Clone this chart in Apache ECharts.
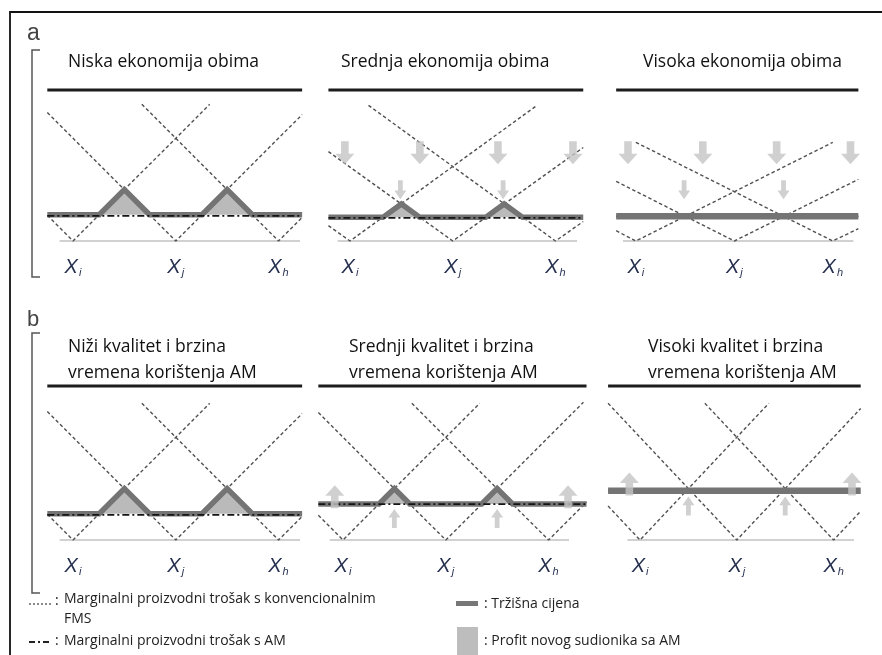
<!DOCTYPE html>
<html>
<head>
<meta charset="utf-8">
<script src="https://cdn.jsdelivr.net/npm/echarts@6/dist/echarts.min.js"></script>
<style>
  html, body { margin: 0; padding: 0; background: #fff; }
  #chart { width: 882px; height: 655px; }
</style>
</head>
<body>
<div id="chart"></div>
<script>
// Panel titles and quantity-axis tick labels (subscripts of X)
const titlesA = ['Niska ekonomija obima', 'Srednja ekonomija obima', 'Visoka ekonomija obima'];
const titlesB = ['Niži kvalitet i brzina\nvremena korištenja AM',
                 'Srednji kvalitet i brzina\nvremena korištenja AM',
                 'Visoki kvalitet i brzina\nvremena korištenja AM'];
const ticksA = ['i', 'j', 'h'];
const ticksB = ['i', 'j', 'h'];

// x: product position (Xi = 1, Xj = 2, Xh = 3), y: cost / price level

// a1 — low economies of scale
const a1Fms = [
  [[0.75, 0.25], [1, 0], [2.33, 1.33]],
  [[0.75, 1.25], [2, 0], [3.23, 1.23]],
  [[1.67, 1.33], [3, 0], [3.23, 0.23]]
];
const a1Price = [[0.75, 0.255], [1.255, 0.255], [1.5, 0.5], [1.745, 0.255], [2.255, 0.255], [2.5, 0.5], [2.745, 0.255], [3.23, 0.255]];
const a1Am = [[0.75, 0.245], [3.23, 0.245]];
const a1Base = [[0.87, 0], [3.21, 0]];
const a1Rule = [[0.75, 1.47], [3.23, 1.47]];
const a1BigArrows = [];
const a1SmallArrows = [];

// a2 — medium economies of scale
const a2Fms = [
  [[0.79, 0.15], [1, 0], [2.82, 1.32]],
  [[0.79, 0.87], [2, 0], [3.27, 0.91]],
  [[1.18, 1.32], [3, 0], [3.27, 0.19]]
];
const a2Price = [[0.79, 0.23], [1.32, 0.23], [1.5, 0.36], [1.68, 0.23], [2.32, 0.23], [2.5, 0.36], [2.68, 0.23], [3.27, 0.23]];
const a2Am = [[0.79, 0.225], [3.27, 0.225]];
const a2Base = [[0.88, 0], [3.21, 0]];
const a2Rule = [[0.79, 1.47], [3.27, 1.47]];
const a2BigArrows = [[0.95, 0.86], [1.68, 0.86], [2.44, 0.86], [3.17, 0.86]];
const a2SmallArrows = [[1.49, 0.5], [2.49, 0.5]];

// a3 — high economies of scale
const a3Fms = [
  [[0.8, 0.1], [1, 0], [3, 0.96]],
  [[0.8, 0.58], [2, 0], [3.26, 0.6]],
  [[1, 0.96], [3, 0], [3.26, 0.12]]
];
const a3Price = [[0.8, 0.24], [3.26, 0.24]];
const a3Am = [[0.8, 0.24], [3.26, 0.24]];
const a3Base = [[0.87, 0], [3.21, 0]];
const a3Rule = [[0.8, 1.47], [3.26, 1.47]];
const a3BigArrows = [[0.92, 0.86], [1.68, 0.86], [2.43, 0.86], [3.18, 0.86]];
const a3SmallArrows = [[1.49, 0.5], [2.5, 0.5]];

// b1 — lower quality and speed of AM
const b1Fms = [
  [[0.75, 0.25], [1, 0], [2.33, 1.33]],
  [[0.75, 1.25], [2, 0], [3.23, 1.23]],
  [[1.67, 1.33], [3, 0], [3.23, 0.23]]
];
const b1Price = [[0.75, 0.255], [1.255, 0.255], [1.5, 0.5], [1.745, 0.255], [2.255, 0.255], [2.5, 0.5], [2.745, 0.255], [3.23, 0.255]];
const b1Am = [[0.75, 0.245], [3.23, 0.245]];
const b1Base = [[0.87, 0], [3.21, 0]];
const b1Rule = [[0.75, 1.5], [3.23, 1.5]];
const b1BigArrows = [];
const b1SmallArrows = [];

// b2 — medium quality and speed of AM
const b2Fms = [
  [[0.76, 0.24], [1, 0], [2.33, 1.33]],
  [[0.76, 1.24], [2, 0], [3.34, 1.34]],
  [[1.67, 1.33], [3, 0], [3.37, 0.37]]
];
const b2Price = [[0.76, 0.35], [1.35, 0.35], [1.5, 0.5], [1.65, 0.35], [2.35, 0.35], [2.5, 0.5], [2.65, 0.35], [3.37, 0.35]];
const b2Am = [[0.76, 0.35], [3.37, 0.35]];
const b2Base = [[0.87, 0], [3.2, 0]];
const b2Rule = [[0.76, 1.5], [3.37, 1.5]];
const b2BigArrows = [[0.92, 0.42], [3.19, 0.42]];
const b2SmallArrows = [[1.5, 0.21], [2.5, 0.21]];

// b3 — high quality and speed of AM
const b3Fms = [
  [[0.67, 0.33], [1, 0], [2.33, 1.33]],
  [[0.67, 1.33], [2, 0], [3.28, 1.28]],
  [[1.67, 1.33], [3, 0], [3.28, 0.28]]
];
const b3Price = [[0.67, 0.48], [3.28, 0.48]];
const b3Am = [[0.67, 0.48], [3.28, 0.48]];
const b3Base = [[0.87, 0], [3.21, 0]];
const b3Rule = [[0.67, 1.5], [3.28, 1.5]];
const b3BigArrows = [[0.89, 0.545], [3.19, 0.545]];
const b3SmallArrows = [[1.5, 0.33], [2.5, 0.33]];

// ---- layout ----
const U = 102.75;                 // pixels per unit on both axes
const DOWN = 'path://M3,0H7V6H10L5,11L0,6H3Z';
const UP = 'path://M5,0L10,5H7V11H3V5H0Z';

// amTop: the AM cost line is drawn over the market price line
const panels = [
  { c1: 73,  base: 241, fms: a1Fms, price: a1Price, am: a1Am, baseLine: a1Base, rule: a1Rule, big: a1BigArrows, small: a1SmallArrows, dir: 'down', ticks: ticksA, pw: 5.5, amTop: true },
  { c1: 350, base: 241, fms: a2Fms, price: a2Price, am: a2Am, baseLine: a2Base, rule: a2Rule, big: a2BigArrows, small: a2SmallArrows, dir: 'down', ticks: ticksA, pw: 5.5, amTop: true },
  { c1: 638, base: 241, fms: a3Fms, price: a3Price, am: a3Am, baseLine: a3Base, rule: a3Rule, big: a3BigArrows, small: a3SmallArrows, dir: 'down', ticks: ticksA, pw: 6.5, amTop: false },
  { c1: 73,  base: 540, fms: b1Fms, price: b1Price, am: b1Am, baseLine: b1Base, rule: b1Rule, big: b1BigArrows, small: b1SmallArrows, dir: 'up', ticks: ticksB, pw: 5.5, amTop: true },
  { c1: 343, base: 540, fms: b2Fms, price: b2Price, am: b2Am, baseLine: b2Base, rule: b2Rule, big: b2BigArrows, small: b2SmallArrows, dir: 'up', ticks: ticksB, pw: 5.5, amTop: true },
  { c1: 643, base: 540, fms: b3Fms, price: b3Price, am: b3Am, baseLine: b3Base, rule: b3Rule, big: b3BigArrows, small: b3SmallArrows, dir: 'up', ticks: ticksB, pw: 6.5, amTop: false }
];

const grids = [], xAxes = [], yAxes = [], series = [];
const lineBase = { type: 'line', symbol: 'none', showSymbol: false, silent: true, clip: false, animation: false };

panels.forEach((p, i) => {
  grids.push({ left: p.c1 - 0.5 * U, top: p.base - 2 * U, width: 3 * U, height: 2 * U });
  xAxes.push({
    type: 'value', gridIndex: i, min: 0.5, max: 3.5,
    axisLine: { show: false }, axisTick: { show: false }, splitLine: { show: false },
    axisLabel: {
      customValues: [1, 2, 3],
      margin: 15,
      formatter: v => '{x|X}{s|' + p.ticks[Math.round(v) - 1] + '}',
      rich: {
        x: { fontFamily: 'Liberation Sans', fontStyle: 'italic', fontSize: 20, color: '#26304f', lineHeight: 22 },
        s: { fontFamily: 'Liberation Sans', fontStyle: 'italic', fontSize: 11, color: '#2a3455', lineHeight: 8, verticalAlign: 'bottom', padding: [0, 0, 0, 1] }
      }
    }
  });
  yAxes.push({ type: 'value', gridIndex: i, min: 0, max: 2, show: false });

  const ax = { xAxisIndex: i, yAxisIndex: i };
  series.push(Object.assign({}, lineBase, ax, { data: p.rule, z: 2, lineStyle: { color: '#1c1c1c', width: 3 } }));
  series.push(Object.assign({}, lineBase, ax, { data: p.baseLine, z: 2, lineStyle: { color: '#c2c2c2', width: 1.5 } }));
  p.fms.forEach(v => {
    series.push(Object.assign({}, lineBase, ax, { data: v, z: 3, lineStyle: { color: '#505050', width: 1.4, type: [3.5, 2.5] } }));
  });
  series.push(Object.assign({}, lineBase, ax, {
    data: p.price, z: 4,
    lineStyle: { color: '#747474', width: p.pw, join: 'miter' },
    areaStyle: { color: '#bababa', opacity: 1, origin: p.price[0][1] }
  }));
  series.push(Object.assign({}, lineBase, ax, { data: p.am, z: p.amTop ? 5 : 3, lineStyle: { color: '#141414', width: 1.8, type: [7, 3, 2, 3] } }));
  if (p.big.length) {
    series.push({ type: 'scatter', ...ax, data: p.big, z: 6, silent: true, animation: false,
      symbol: p.dir === 'down' ? DOWN : UP, symbolSize: [19, 23], itemStyle: { color: '#c4c4c4' } });
    series.push({ type: 'scatter', ...ax, data: p.small, z: 6, silent: true, animation: false,
      symbol: p.dir === 'down' ? DOWN : UP, symbolSize: [12, 19], itemStyle: { color: '#c4c4c4' } });
  }
});

const titleStyle = { fontFamily: 'Open Sans', fontSize: 17.5, fontWeight: 'normal', color: '#111', lineHeight: 26 };
const titleLefts = [68, 341, 643];
const titleLeftsB = [68, 349, 648];
const titles = [];
titlesA.forEach((t, i) => titles.push({ text: t, left: titleLefts[i], top: 49, padding: 0, textStyle: titleStyle }));
titlesB.forEach((t, i) => titles.push({ text: t, left: titleLeftsB[i], top: 334, padding: 0, textStyle: titleStyle }));

const legendFont = { fontFamily: 'Open Sans', fontSize: 14, fill: '#222' };
const txt = (x, y, s, extra) => ({ type: 'text', x, y, style: Object.assign({ text: s, verticalAlign: 'middle' }, legendFont, extra || {}) });

const graphic = [
  // frame
  { type: 'rect', shape: { x: 10, y: 12, width: 900, height: 700 }, style: { fill: 'none', stroke: '#111', lineWidth: 1.8 } },
  // panel group letters and brackets
  { type: 'text', x: 27, y: 34, style: { text: 'a', fontFamily: 'Liberation Sans', fontSize: 23, fill: '#444', verticalAlign: 'middle' } },
  { type: 'text', x: 27, y: 320, style: { text: 'b', fontFamily: 'Liberation Sans', fontSize: 22, fill: '#444', verticalAlign: 'middle' } },
  { type: 'polyline', shape: { points: [[40, 50], [32, 50], [32, 277], [40, 277]] }, style: { fill: 'none', stroke: '#555', lineWidth: 1.5 } },
  { type: 'polyline', shape: { points: [[40, 333], [32, 333], [32, 593], [40, 593]] }, style: { fill: 'none', stroke: '#555', lineWidth: 1.5 } },
  // key
  { type: 'line', shape: { x1: 29, y1: 604, x2: 51, y2: 604 }, style: { stroke: '#666', lineWidth: 1.5, lineDash: [2, 2] } },
  txt(55, 601, ':'),
  txt(64, 599, 'Marginalni proizvodni trošak s konvencionalnim'),
  txt(64, 619, 'FMS'),
  { type: 'line', shape: { x1: 29, y1: 642, x2: 51, y2: 642 }, style: { stroke: '#222', lineWidth: 2, lineDash: [6, 3, 2, 3] } },
  txt(55, 641, ':'),
  txt(64, 641, 'Marginalni proizvodni trošak s AM'),
  { type: 'rect', shape: { x: 456, y: 601, width: 22, height: 5 }, style: { fill: '#777' } },
  txt(484, 604, ': Tržišna cijena'),
  { type: 'rect', shape: { x: 457, y: 627, width: 21, height: 30 }, style: { fill: '#bdbdbd' } },
  txt(484, 641, ': Profit novog sudionika sa AM')
];

const chart = echarts.init(document.getElementById('chart'), null, { renderer: 'canvas' });
chart.setOption({
  animation: false,
  backgroundColor: '#fff',
  title: titles,
  grid: grids,
  xAxis: xAxes,
  yAxis: yAxes,
  series: series,
  graphic: graphic
});
</script>
</body>
</html>
